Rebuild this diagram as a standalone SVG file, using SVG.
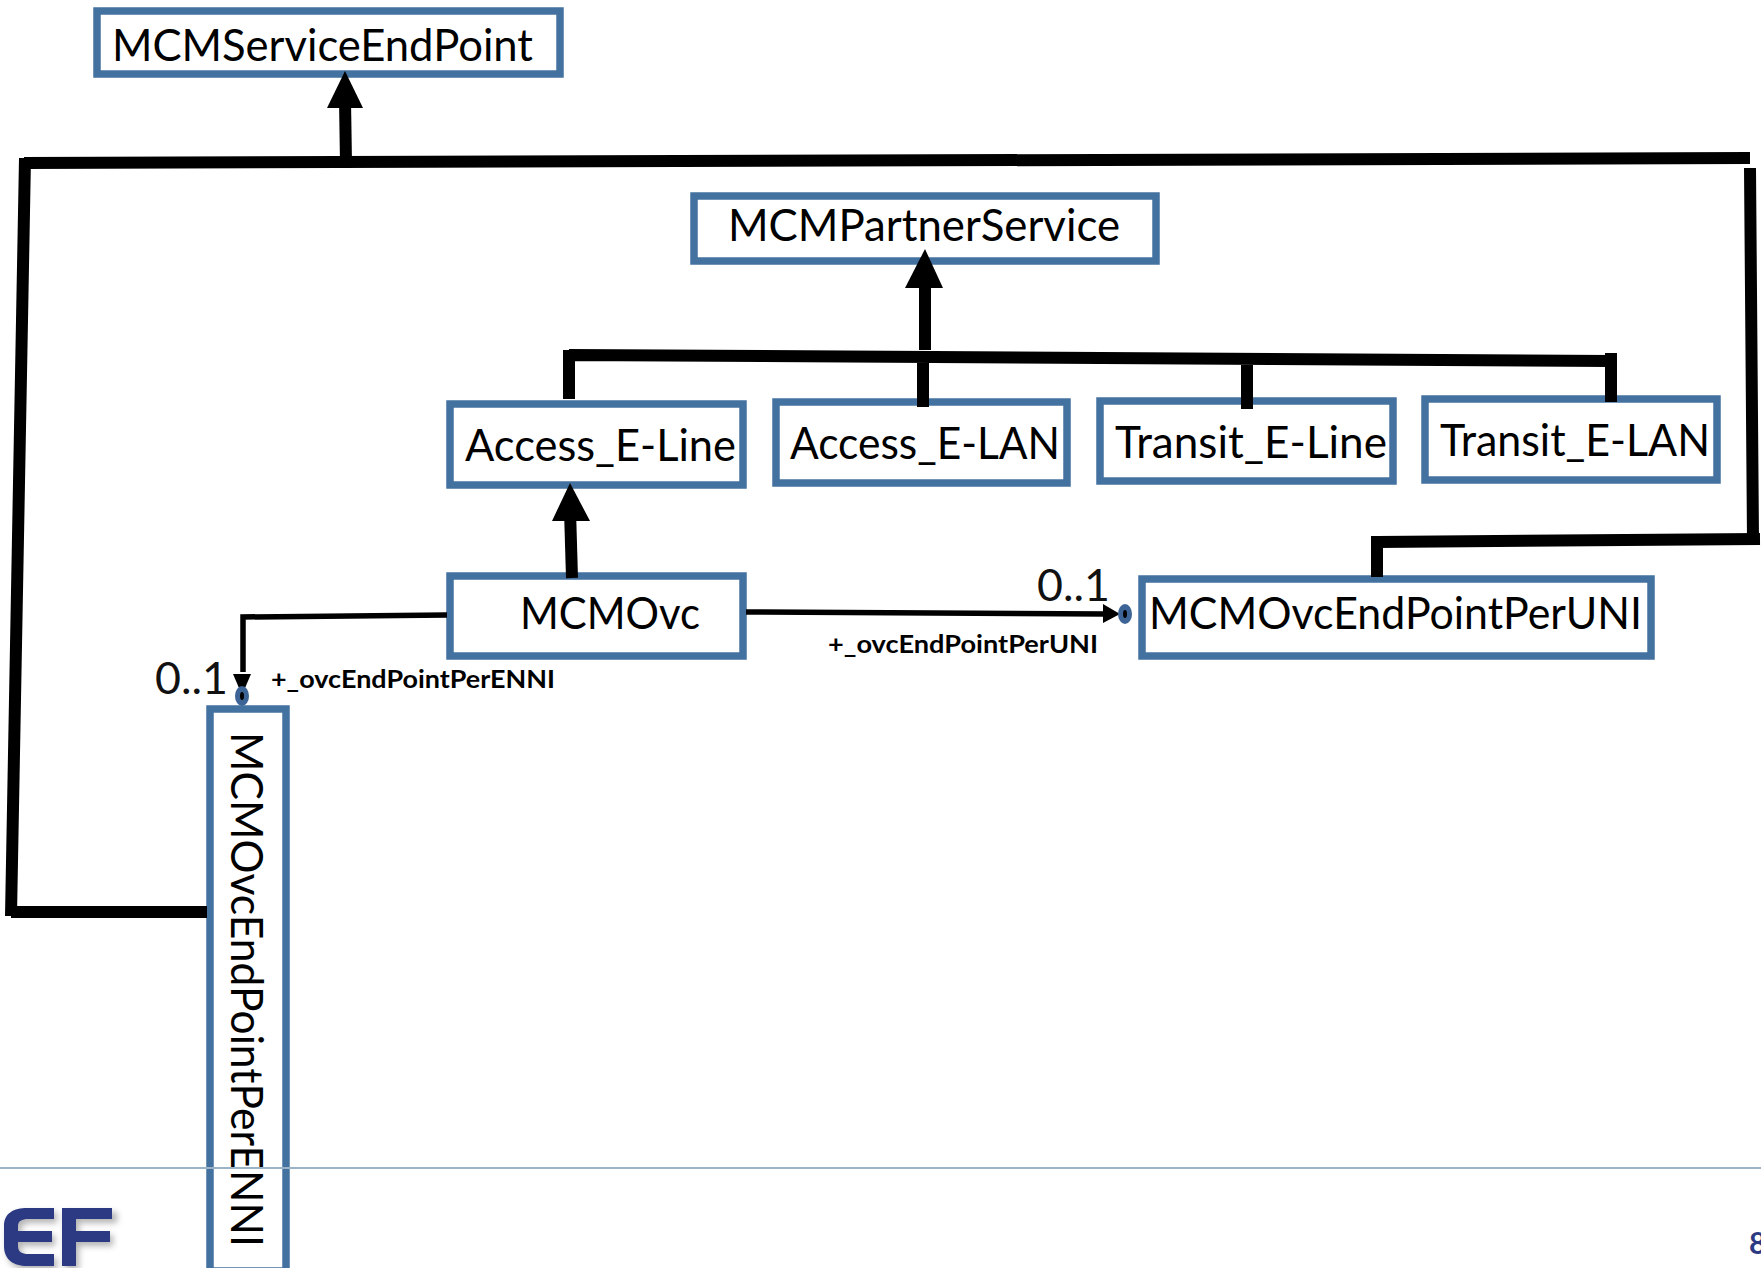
<svg xmlns="http://www.w3.org/2000/svg" width="1761" height="1268" viewBox="0 0 1761 1268">
<style>
.box{fill:#fff;stroke:#4472a0;stroke-width:7.5}
.t{font-family:Lato,"Liberation Sans",sans-serif;font-size:45px;fill:#000}
.m{font-family:Lato,"Liberation Sans",sans-serif;font-size:45px;fill:#111}
.r{font-family:Lato,"Liberation Sans",sans-serif;font-size:25px;font-weight:700;fill:#000}
.thick{fill:none;stroke:#000;stroke-width:12}
.thin{fill:none;stroke:#000;stroke-width:5.5}
.dot{fill:#3d6496}
</style>
<defs><filter id="sh" x="-20%" y="-20%" width="140%" height="140%"><feGaussianBlur stdDeviation="3"/></filter></defs>
<g id="n-service"><rect class="box" x="97" y="11" width="463" height="63"/><text class="t" x="112" y="61" textLength="421" lengthAdjust="spacingAndGlyphs">MCMServiceEndPoint</text></g>
<g id="n-partner"><rect class="box" x="694" y="196" width="462" height="65"/><text class="t" x="728" y="241" textLength="392" lengthAdjust="spacingAndGlyphs">MCMPartnerService</text></g>
<g id="n-aline"><rect class="box" x="450" y="404" width="293" height="81"/><text class="t" x="465" y="461" textLength="271" lengthAdjust="spacingAndGlyphs">Access_E-Line</text></g>
<g id="n-alan"><rect class="box" x="776" y="402" width="291" height="81"/><text class="t" x="790" y="459" textLength="270" lengthAdjust="spacingAndGlyphs">Access_E-LAN</text></g>
<g id="n-tline"><rect class="box" x="1100" y="401" width="293" height="80"/><text class="t" x="1115" y="458" textLength="272" lengthAdjust="spacingAndGlyphs">Transit_E-Line</text></g>
<g id="n-tlan"><rect class="box" x="1425" y="399" width="292" height="81"/><text class="t" x="1440" y="456" textLength="270" lengthAdjust="spacingAndGlyphs">Transit_E-LAN</text></g>
<g id="n-ovc"><rect class="box" x="450" y="576" width="293" height="80"/><text class="t" x="520" y="629" textLength="180" lengthAdjust="spacingAndGlyphs">MCMOvc</text></g>
<g id="n-uni"><rect class="box" x="1142" y="579" width="509" height="77"/><text class="t" x="1149" y="629" textLength="493" lengthAdjust="spacingAndGlyphs">MCMOvcEndPointPerUNI</text></g>
<g id="n-enni"><rect class="box" x="210" y="709" width="76" height="562"/><text class="t" transform="translate(231 732) rotate(90)" textLength="515" lengthAdjust="spacingAndGlyphs">MCMOvcEndPointPerENNI</text></g>
<g id="footer">
<line x1="0" y1="1168" x2="1761" y2="1168" stroke="#9ab3c6" stroke-width="2"/>
<g id="logo">
<path d="M4 1246V1226C4 1213 14 1208 27 1208H54V1219H28C22 1219 18 1221 18 1226V1231H52V1242H18V1246C18 1252 22 1254 28 1254H54V1266H27C14 1266 4 1260 4 1246Z M62 1208H114V1219H76V1231H110V1242H76V1266H62Z" fill="#777" opacity=".55" filter="url(#sh)" transform="translate(3 4)"/>
<path d="M4 1246V1226C4 1213 14 1208 27 1208H54V1219H28C22 1219 18 1221 18 1226V1231H52V1242H18V1246C18 1252 22 1254 28 1254H54V1266H27C14 1266 4 1260 4 1246Z M62 1208H112V1219H76V1231H110V1242H76V1266H62Z" fill="#2b3a82"/>
</g>
<text x="1749" y="1254" font-family="Lato,'Liberation Sans',sans-serif" font-size="30" font-weight="700" fill="#2b3a82">8</text>
</g>
<g id="connectors">
<path class="thick" d="M1750 158L24 163M25 158L11 916M11 912H207"/>
<path class="thick" d="M346 163L345 100"/>
<path d="M327 108L345 71L363 108Z"/>
<path class="thick" d="M1750 168L1753 540M1760 539L1377 542M1377 536V577"/>
<path class="thick" d="M569 355L1611 361M569 350V399M923 355V407M1247 361V409M1611 353V402"/>
<path class="thick" d="M925 350V270"/>
<path d="M905 288L925 249L943 288Z"/>
<path class="thick" d="M572 578L570 510"/>
<path d="M552 521L570 483L590 521Z"/>
<path class="thin" d="M447 615L243 617V672"/>
<path d="M233 674L242 695L251 674Z"/>
<path class="thin" d="M746 612L1105 614"/>
<path d="M1103 604L1120 614L1103 623Z"/>
<ellipse class="dot" cx="242" cy="696" rx="7" ry="10"/>
<ellipse cx="242" cy="696" rx="2" ry="4"/>
<ellipse class="dot" cx="1125" cy="614" rx="7" ry="10"/>
<ellipse cx="1125" cy="614" rx="2" ry="4"/>
</g>
<g id="labels">
<text class="m" x="155" y="694" textLength="73" lengthAdjust="spacingAndGlyphs">0..1</text>
<text class="r" x="271" y="688" textLength="284" lengthAdjust="spacingAndGlyphs">+_ovcEndPointPerENNI</text>
<text class="m" x="1037" y="601" textLength="73" lengthAdjust="spacingAndGlyphs">0..1</text>
<text class="r" x="828" y="653" textLength="270" lengthAdjust="spacingAndGlyphs">+_ovcEndPointPerUNI</text>
</g>
</svg>
